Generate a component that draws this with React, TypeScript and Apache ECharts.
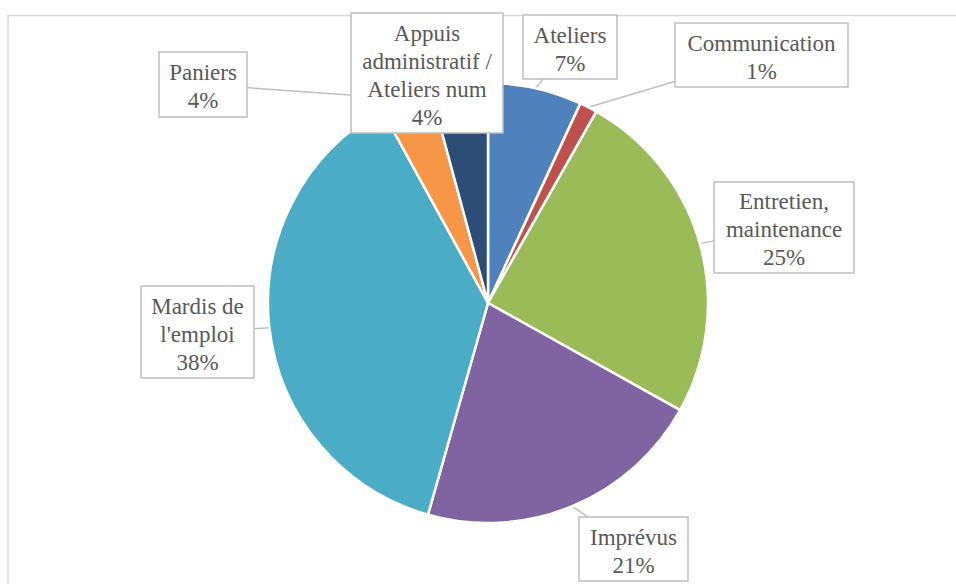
import React, { useEffect, useRef } from 'react';
import * as echarts from 'echarts';

// Data
const categories = [
  'Ateliers',
  'Communication',
  'Entretien, maintenance',
  'Imprévus',
  "Mardis de l'emploi",
  'Paniers',
  'Appuis administratif / Ateliers num',
];
const labelLinesText: string[][] = [
  ['Ateliers'],
  ['Communication'],
  ['Entretien,', 'maintenance'],
  ['Imprévus'],
  ['Mardis de', "l'emploi"],
  ['Paniers'],
  ['Appuis', 'administratif /', 'Ateliers num'],
];
const shares = [6.9, 1.3, 24.9, 21.3, 37.6, 3.8, 4.2];

// Styles / layout
const colors = ['#4F81BD', '#C0504D', '#9BBB59', '#8064A2', '#4BACC6', '#F79646', '#2C4D75'];
const labelCenters: number[][] = [
  [570, 47],
  [761.5, 55],
  [784, 227.5],
  [633.5, 549],
  [197.5, 332],
  [203, 84.5],
  [427, 73],
];
const labelBoxSizes: number[][] = [
  [94, 64],
  [173, 64],
  [140, 91],
  [109, 64],
  [113, 92],
  [88, 65],
  [152, 120],
];
const FONT = 'serif';
const FONT_SIZE = 23;
const LINE_H = 28;

export default function App() {
  const ref = useRef<HTMLDivElement>(null);
  useEffect(() => {
    if (!ref.current) return;
    const chart = echarts.init(ref.current, null, { renderer: 'svg' });
    const total = shares.reduce((a, b) => a + b, 0);
    const pctLabels = shares.map((v) => Math.round((v / total) * 100) + '%');

    const ctx = document.createElement('canvas').getContext('2d');
    if (ctx) ctx.font = FONT_SIZE + 'px serif';
    const measure = (t: string) => (ctx ? ctx.measureText(t).width : t.length * 11);

    const rich: Record<string, any> = {};
    labelBoxSizes.forEach((s, i) => {
      rich['b' + i] = { width: s[0], height: s[1], fontSize: 1, color: 'rgba(0,0,0,0)' };
    });

    const labelGraphics: any[] = [];
    categories.forEach((_, i) => {
      const [cx, cy] = labelCenters[i];
      const [w, h] = labelBoxSizes[i];
      labelGraphics.push({
        type: 'rect',
        silent: true,
        z: 100,
        shape: { x: cx - w / 2, y: cy - h / 2, width: w, height: h },
        style: { fill: '#ffffff', stroke: '#bfbfbf', lineWidth: 1.5 },
      });
    });
    categories.forEach((_, i) => {
      const [cx, cy] = labelCenters[i];
      const lines = [...labelLinesText[i], pctLabels[i]];
      const firstCenter = cy + 2 - ((lines.length - 1) * LINE_H) / 2;
      lines.forEach((t, k) => {
        labelGraphics.push({
          type: 'text',
          z: 101,
          x: cx - measure(t) / 2,
          y: firstCenter + k * LINE_H - FONT_SIZE / 2,
          style: {
            text: t,
            fontFamily: FONT,
            fontSize: FONT_SIZE,
            fill: '#595959',
          },
        });
      });
    });

    chart.setOption({
      animation: false,
      backgroundColor: '#ffffff',
      textStyle: { fontFamily: 'Times New Roman' },
      graphic: [
        {
          type: 'rect',
          silent: true,
          shape: { x: 8, y: 15.5, width: 1400, height: 1400 },
          style: { fill: 'none', stroke: '#d9d9d9', lineWidth: 1.5 },
          z: -10,
        },
        ...labelGraphics,
      ],
      series: [
        {
          type: 'pie',
          center: [488, 303],
          radius: 220,
          startAngle: 90,
          clockwise: true,
          avoidLabelOverlap: false,
          silent: true,
          data: categories.map((name, i) => ({
            name,
            value: shares[i],
            itemStyle: { color: colors[i] },
          })),
          itemStyle: { borderColor: '#ffffff', borderWidth: 2.5 },
          label: {
            show: true,
            position: 'outside',
            formatter: (p: any) => '{b' + p.dataIndex + '| }',
            rich,
            align: 'center',
          },
          labelLine: {
            show: true,
            length: 5,
            length2: 0,
            lineStyle: { color: '#bfbfbf', width: 1.5 },
          },
          labelLayout: (p: any) => ({
            x: labelCenters[p.dataIndex][0],
            y: labelCenters[p.dataIndex][1],
            align: 'center',
            verticalAlign: 'middle',
            hideOverlap: false,
          }),
        },
      ],
    });
    return () => chart.dispose();
  }, []);
  return (
    <div
      ref={ref}
      style={{ position: 'fixed', left: 0, top: 0, width: 956, height: 584 }}
    />
  );
}
